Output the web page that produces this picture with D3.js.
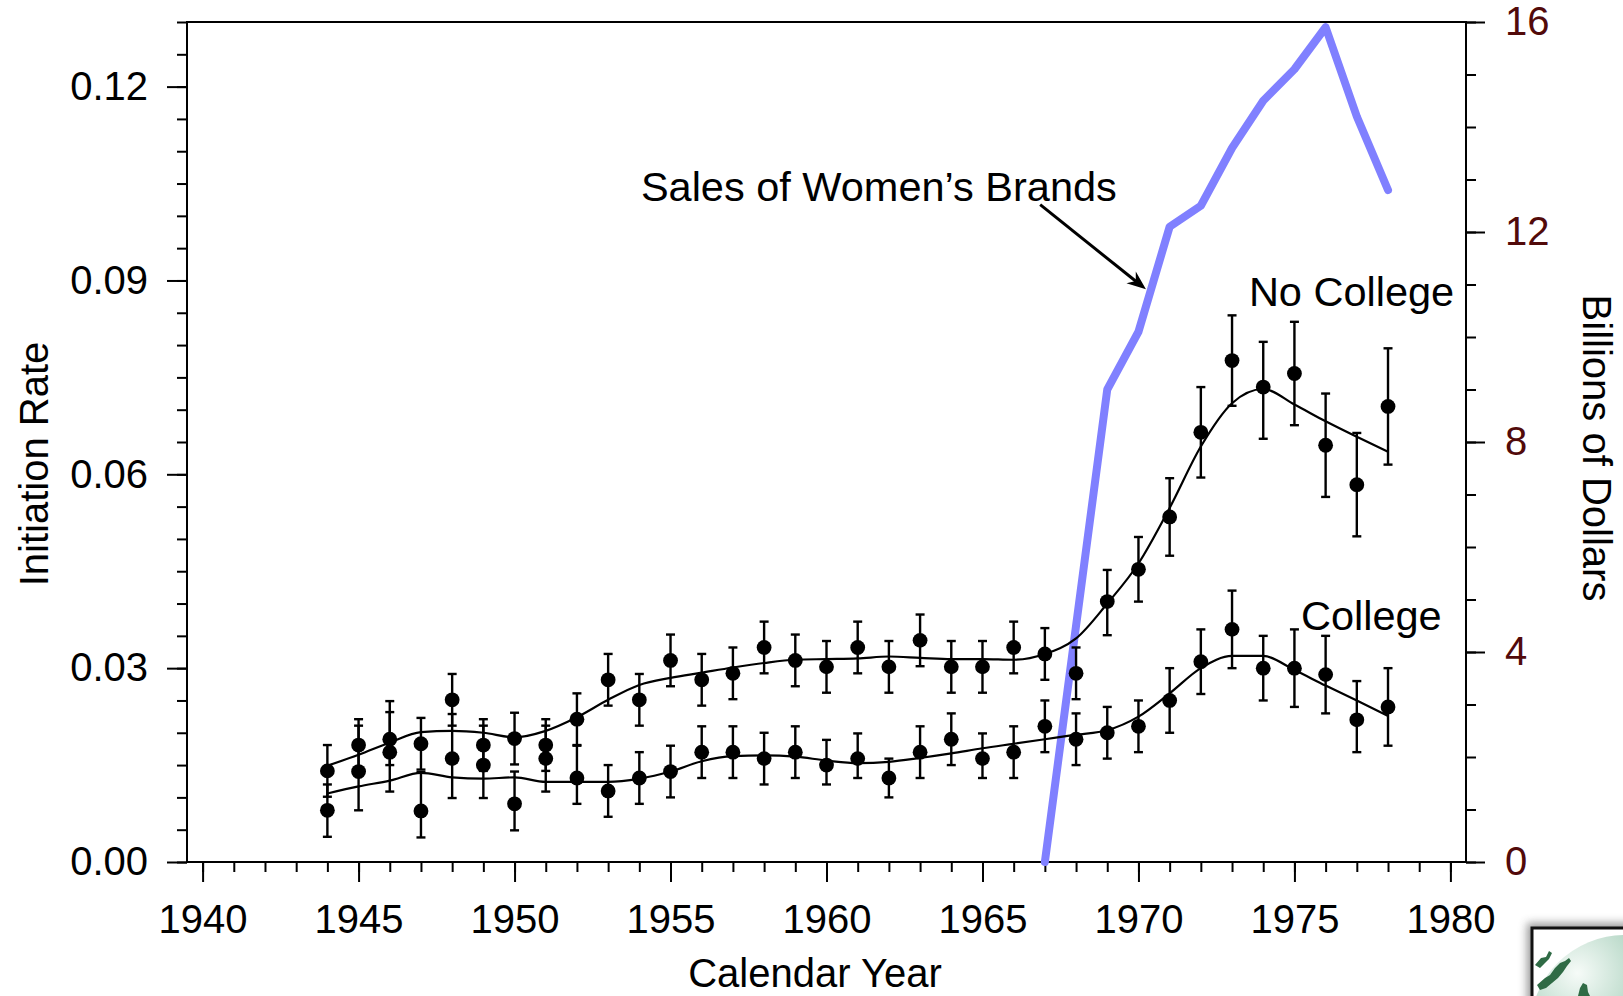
<!DOCTYPE html>
<html><head><meta charset="utf-8">
<script src="https://cdn.jsdelivr.net/npm/d3@7"></script>
<style>
html,body{margin:0;padding:0;background:#fff;}
svg{display:block;font-family:"Liberation Sans",Arial,Helvetica,sans-serif;}
</style></head><body>
<svg id="chart" width="1623" height="996"></svg>
<script>
// ---------------- data ----------------
const years = [1944,1945,1946,1947,1948,1949,1950,1951,1952,1953,1954,1955,1956,1957,1958,1959,1960,1961,1962,1963,1964,1965,1966,1967,1968,1969,1970,1971,1972,1973,1974,1975,1976,1977,1978];

const noCollegeRate = [0.0141,0.0181,0.0190,0.0183,0.0251,0.0181,0.0191,0.0181,0.0221,0.0282,0.0251,0.0312,0.0282,0.0292,0.0332,0.0312,0.0302,0.0332,0.0302,0.0343,0.0302,0.0302,0.0332,0.0322,0.0292,0.0403,0.0453,0.0534,0.0665,0.0776,0.0735,0.0756,0.0645,0.0584,0.0705];
const noCollegeErrUp   = [0.004,0.004,0.0059,0.004,0.004,0.004,0.004,0.004,0.004,0.004,0.004,0.004,0.004,0.004,0.004,0.004,0.004,0.004,0.004,0.004,0.004,0.004,0.004,0.004,0.004,0.0049,0.005,0.006,0.007,0.007,0.007,0.008,0.008,0.008,0.009];
const noCollegeErrDown = [0.004,0.004,0.004,0.004,0.004,0.004,0.004,0.004,0.004,0.004,0.004,0.004,0.004,0.004,0.004,0.004,0.004,0.004,0.004,0.004,0.004,0.004,0.004,0.004,0.004,0.0052,0.005,0.006,0.007,0.007,0.008,0.008,0.008,0.008,0.009];
const noCollegeFit = [0.0149,0.0166,0.0185,0.0201,0.0203,0.0200,0.0193,0.0203,0.0224,0.0251,0.0274,0.0285,0.0293,0.0301,0.0308,0.0313,0.0314,0.0315,0.0318,0.0316,0.0314,0.0314,0.0313,0.0322,0.0346,0.0400,0.0462,0.0548,0.0643,0.0710,0.0732,0.0708,0.0682,0.0658,0.0635];

const collegeRate = [0.0080,0.0140,0.0170,0.0079,0.0160,0.0150,0.0090,0.0160,0.0130,0.0110,0.0130,0.0140,0.0170,0.0170,0.0160,0.0170,0.0150,0.0160,0.0130,0.0170,0.0190,0.0160,0.0170,0.0210,0.0190,0.0200,0.0210,0.0250,0.0310,0.0360,0.0300,0.0300,0.0290,0.0220,0.0240];
const collegeErrUp   = [0.004,0.0071,0.0062,0.006,0.0069,0.0061,0.005,0.0051,0.005,0.004,0.004,0.004,0.004,0.004,0.004,0.004,0.0039,0.0039,0.003,0.004,0.004,0.0039,0.004,0.004,0.004,0.004,0.004,0.005,0.005,0.006,0.005,0.006,0.006,0.006,0.006];
const collegeErrDown = [0.0041,0.006,0.0061,0.0041,0.0061,0.0051,0.0041,0.0051,0.004,0.004,0.004,0.004,0.004,0.004,0.004,0.004,0.003,0.003,0.003,0.004,0.004,0.003,0.004,0.004,0.004,0.004,0.004,0.005,0.005,0.006,0.005,0.006,0.006,0.005,0.006];
const collegeFit = [0.0106,0.0117,0.0126,0.0138,0.0131,0.0129,0.0131,0.0124,0.0124,0.0124,0.0129,0.0140,0.0156,0.0164,0.0165,0.0163,0.0157,0.0153,0.0155,0.0161,0.0168,0.0176,0.0183,0.0190,0.0197,0.0204,0.0225,0.0261,0.0300,0.0319,0.0319,0.0297,0.0273,0.0250,0.0226];

const salesYears = [1967,1969,1970,1971,1972,1973,1974,1975,1976,1977,1978];
const salesBillions = [0,9.0,10.1,12.1,12.5,13.6,14.5,15.1,15.9,14.2,12.8];

const yearTicks = [1940,1945,1950,1955,1960,1965,1970,1975,1980];
const rateTicks = [0,0.03,0.06,0.09,0.12];
const dollarTicks = [0,4,8,12,16];

// ---------------- layout ----------------
const L = 187, R = 1466, T = 22, B = 862;
const FONT = 40;

const svg = d3.select("#chart");
const x  = d3.scaleLinear().domain([1939.5, 1980.5]).range([L, R]);
const yL = d3.scaleLinear().domain([0, 0.13]).range([B, T]);
const yR = d3.scaleLinear().domain([0, 16]).range([B, T]);

// frame
svg.append("rect").attr("x", L).attr("y", T).attr("width", R - L).attr("height", B - T)
  .attr("fill", "none").attr("stroke", "#000").attr("stroke-width", 2);

function styleAxis(g, color) {
  g.select(".domain").remove();
  g.selectAll(".tick line").attr("stroke", "#000").attr("stroke-width", 2);
  g.selectAll(".tick text").attr("font-size", FONT).attr("fill", color || "#000")
    .attr("font-family", "'Liberation Sans', Arial, Helvetica, sans-serif");
}

// bottom axis
const minorYears = d3.range(1940, 1981, 1);
svg.append("g").attr("transform", `translate(0,${B})`)
  .call(d3.axisBottom(x).tickValues(minorYears).tickSize(10).tickFormat(""))
  .call(g => styleAxis(g));
svg.append("g").attr("transform", `translate(0,${B})`)
  .call(d3.axisBottom(x).tickValues(yearTicks).tickSize(20).tickPadding(23).tickFormat(d3.format("d")))
  .call(g => styleAxis(g));

// left axis
const minorRates = d3.range(0, 0.1301, 0.005);
svg.append("g").attr("transform", `translate(${L},0)`)
  .call(d3.axisLeft(yL).tickValues(minorRates).tickSize(10).tickFormat(""))
  .call(g => styleAxis(g));
svg.append("g").attr("transform", `translate(${L},0)`)
  .call(d3.axisLeft(yL).tickValues(rateTicks).tickSize(20).tickPadding(19).tickFormat(d3.format(".2f")))
  .call(g => styleAxis(g));

// right axis
const minorDollars = d3.range(0, 17, 1);
svg.append("g").attr("transform", `translate(${R},0)`)
  .call(d3.axisRight(yR).tickValues(minorDollars).tickSize(10).tickFormat(""))
  .call(g => styleAxis(g));
svg.append("g").attr("transform", `translate(${R},0)`)
  .call(d3.axisRight(yR).tickValues(dollarTicks).tickSize(19).tickPadding(20).tickFormat(d3.format("d")))
  .call(g => styleAxis(g, "#520a0a"));

// axis titles
svg.append("text").attr("x", 815).attr("y", 987).attr("text-anchor", "middle")
  .attr("font-size", FONT).text("Calendar Year");
svg.append("text").attr("transform", "translate(48,464) rotate(-90)").attr("text-anchor", "middle")
  .attr("font-size", FONT).text("Initiation Rate");
svg.append("text").attr("transform", "translate(1583,448) rotate(90)").attr("text-anchor", "middle")
  .attr("font-size", FONT).text("Billions of Dollars");

// sales line (under the black marks)
const sales = salesYears.map((yr, i) => ({yr, v: salesBillions[i]}));
svg.append("path").datum(sales)
  .attr("d", d3.line().x(d => x(d.yr)).y(d => yR(d.v)))
  .attr("fill", "none").attr("stroke", "#8080ff").attr("stroke-width", 8)
  .attr("stroke-linejoin", "round").attr("stroke-linecap", "round");

// series
function drawSeries(rate, up, down, fit) {
  const pts = years.map((yr, i) => ({yr, v: rate[i], up: up[i], down: down[i], f: fit[i]}));
  const g = svg.append("g");
  g.append("path").datum(pts)
    .attr("d", d3.line().curve(d3.curveMonotoneX).x(d => x(d.yr)).y(d => yL(d.f)))
    .attr("fill", "none").attr("stroke", "#000").attr("stroke-width", 2.2);
  const eb = g.selectAll("g.eb").data(pts).join("g").attr("class", "eb")
    .attr("stroke", "#000").attr("stroke-width", 2.4);
  eb.append("line").attr("x1", d => x(d.yr)).attr("x2", d => x(d.yr))
    .attr("y1", d => yL(d.v + d.up)).attr("y2", d => yL(d.v - d.down));
  eb.append("line").attr("x1", d => x(d.yr) - 4.5).attr("x2", d => x(d.yr) + 4.5)
    .attr("y1", d => yL(d.v + d.up)).attr("y2", d => yL(d.v + d.up));
  eb.append("line").attr("x1", d => x(d.yr) - 4.5).attr("x2", d => x(d.yr) + 4.5)
    .attr("y1", d => yL(d.v - d.down)).attr("y2", d => yL(d.v - d.down));
  g.selectAll("circle").data(pts).join("circle")
    .attr("cx", d => x(d.yr)).attr("cy", d => yL(d.v)).attr("r", 7.4).attr("fill", "#000");
}
drawSeries(collegeRate, collegeErrUp, collegeErrDown, collegeFit);
drawSeries(noCollegeRate, noCollegeErrUp, noCollegeErrDown, noCollegeFit);

// annotations (placed in data coordinates)
const ANN = 41.5;
svg.append("text").attr("x", x(1954.05)).attr("y", yR(12.6)).attr("font-size", ANN)
  .text("Sales of Women\u2019s Brands");
svg.append("text").attr("x", x(1973.54)).attr("y", yL(0.0860)).attr("font-size", ANN).text("No College");
svg.append("text").attr("x", x(1975.21)).attr("y", yL(0.0359)).attr("font-size", ANN).text("College");

// arrow
const a0 = [x(1966.85), yR(12.52)], a1 = [x(1970.24), yR(10.91)];
svg.append("line").attr("x1", a0[0]).attr("y1", a0[1])
  .attr("x2", a1[0] - 6).attr("y2", a1[1] - 4.7)
  .attr("stroke", "#000").attr("stroke-width", 3);
(function () {
  const dx = a1[0] - a0[0], dy = a1[1] - a0[1], len = Math.hypot(dx, dy);
  const ux = dx / len, uy = dy / len, px = -uy, py = ux;
  const hl = 19, hw = 7.5, notch = 13;
  const p = [
    [a1[0], a1[1]],
    [a1[0] - ux * hl + px * hw, a1[1] - uy * hl + py * hw],
    [a1[0] - ux * notch, a1[1] - uy * notch],
    [a1[0] - ux * hl - px * hw, a1[1] - uy * hl - py * hw]
  ];
  svg.append("path").attr("d", "M" + p.map(q => q.join(",")).join("L") + "Z").attr("fill", "#000");
})();

// logo fragment in the bottom-right corner
const defs = svg.append("defs");
const blur = defs.append("filter").attr("id", "blur").attr("x", "-50%").attr("y", "-50%").attr("width", "200%").attr("height", "200%");
blur.append("feGaussianBlur").attr("stdDeviation", 4);
const rg = defs.append("radialGradient").attr("id", "globe").attr("cx", "25%").attr("cy", "20%").attr("r", "90%");
rg.append("stop").attr("offset", "0%").attr("stop-color", "#f6fbf8");
rg.append("stop").attr("offset", "45%").attr("stop-color", "#a9d0bc");
rg.append("stop").attr("offset", "100%").attr("stop-color", "#3f8a66");
defs.append("clipPath").attr("id", "logoclip").append("rect")
  .attr("x", 1533).attr("y", 929).attr("width", 120).attr("height", 90);
const logo = svg.append("g");
logo.append("rect").attr("x", 1527).attr("y", 923).attr("width", 120).attr("height", 100)
  .attr("fill", "#555").attr("opacity", 0.6).attr("filter", "url(#blur)");
logo.append("rect").attr("x", 1532).attr("y", 928).attr("width", 120).attr("height", 100)
  .attr("fill", "#fff").attr("stroke", "#111").attr("stroke-width", 3);
const lg = logo.append("g").attr("clip-path", "url(#logoclip)");
lg.append("circle").attr("cx", 1625).attr("cy", 1030).attr("r", 95).attr("fill", "url(#globe)");
lg.append("path").attr("fill", "#2f6b45")
  .attr("d", "M1535,965 L1541,958 L1546,957 L1549,951 L1552,953 L1549,959 L1545,963 L1540,968 Z " +
             "M1537,985 L1545,978 L1550,975 L1555,968 L1560,963 L1565,961 L1569,958 L1571,961 L1567,966 L1563,972 L1558,978 L1552,983 L1546,988 L1540,990 Z " +
             "M1578,996 L1580,988 L1583,983 L1587,985 L1588,992 L1590,996 Z");
</script>
</body></html>
